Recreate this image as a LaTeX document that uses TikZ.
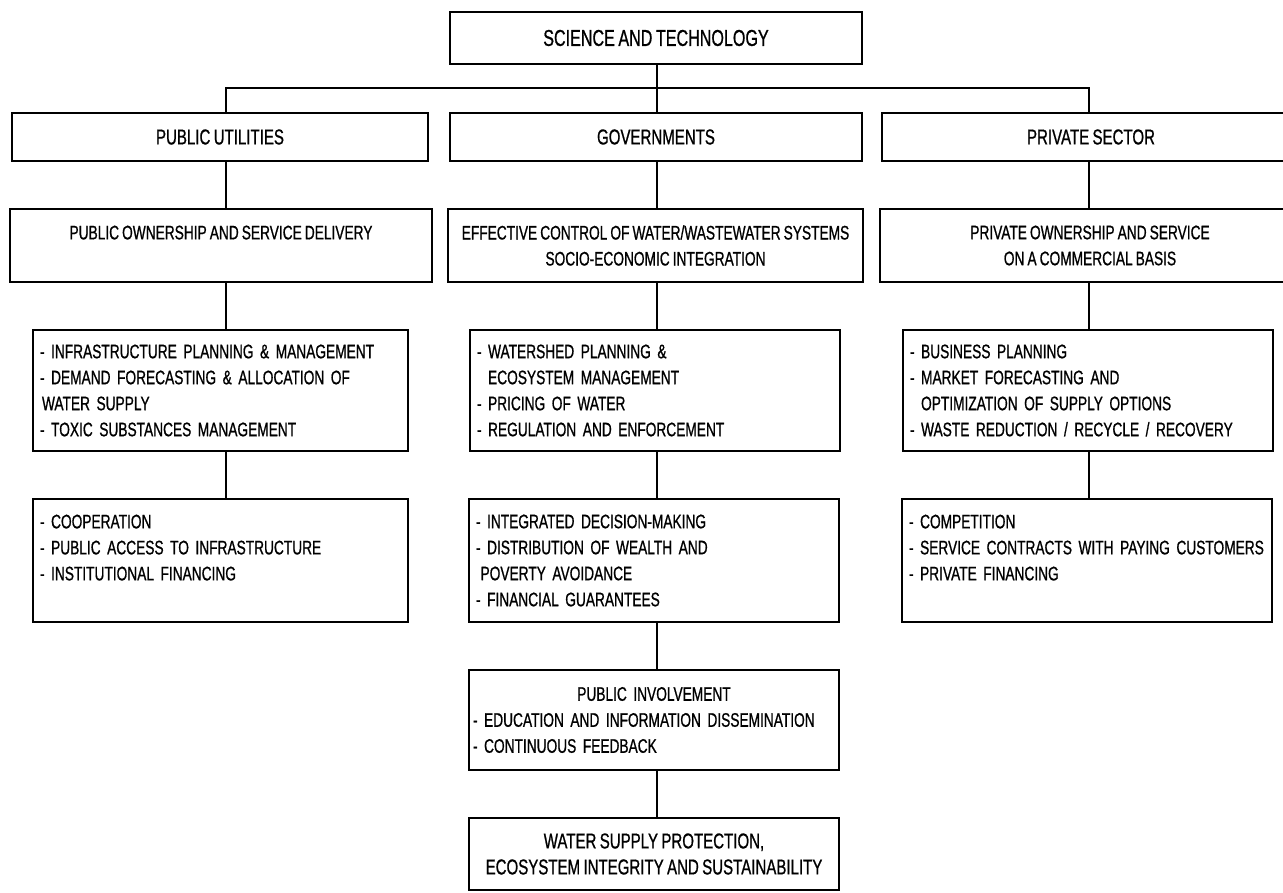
\documentclass[tikz,border=0pt]{standalone}
\usepackage{fontspec}
\setmainfont{Liberation Sans}[FakeStretch=0.7, FakeBold=0.8, WordSpace=0.8]
\begin{document}
\begin{tikzpicture}[x=1pt, y=-1pt,
        box/.style={draw=black, line width=2.7pt, inner sep=0pt, align=center,
            font=\fontsize{19.6}{26}\selectfont},
        headbox/.style={box, minimum height=48pt, font=\fontsize{21.5}{26}\selectfont},
        listbox/.style={box, align=left, inner xsep=7pt, text width=356pt},
        link/.style={line width=1.3pt},
        heavylink/.style={line width=2.8pt}]
    \useasboundingbox (0,0) rectangle (1283,893);
    \clip (0,0) rectangle (1283,893);
    \fill[white] (0,0) rectangle (1283,893);

    % columns of the connectors
    \coordinate (colL) at (226,0);
    \coordinate (colM) at (657,0);
    \coordinate (colR) at (1089,0);
    \coordinate (bar) at (657,88);

    \node[box, minimum width=412pt, minimum height=52pt, font=\fontsize{23}{26}\selectfont]
        (st) at (656,38) {SCIENCE AND TECHNOLOGY};

    % sectors
    \node[headbox, minimum width=416pt] (pu) at (220,137) {PUBLIC UTILITIES};
    \node[headbox, minimum width=412pt] (gov) at (656,137) {GOVERNMENTS};
    \node[headbox, minimum width=418pt] (ps) at (1091,137) {PRIVATE SECTOR};

    % roles
    \node[box, minimum width=422pt, minimum height=73pt] (po) at (221,245.5)
        {PUBLIC OWNERSHIP AND SERVICE DELIVERY\\ \mbox{}};
    \node[box, minimum width=415pt, minimum height=73pt] (ec) at (655.5,245.5)
        {EFFECTIVE CONTROL OF WATER/WASTEWATER SYSTEMS\\SOCIO-ECONOMIC INTEGRATION};
    \node[box, minimum width=420pt, minimum height=73pt] (pr) at (1090,245.5)
        {PRIVATE OWNERSHIP AND SERVICE\\ON A COMMERCIAL BASIS};

    % tasks
    \node[listbox, text width=361pt, minimum height=121pt] (tL) at (220.5,390.5)
        {- INFRASTRUCTURE PLANNING \& MANAGEMENT\\
         - DEMAND FORECASTING \& ALLOCATION OF\\
         \hspace*{2pt}WATER SUPPLY\\
         - TOXIC SUBSTANCES MANAGEMENT};
    \node[listbox, minimum height=121pt] (tM) at (655,390.5)
        {- WATERSHED PLANNING \&\\
         \phantom{- }ECOSYSTEM MANAGEMENT\\
         - PRICING OF WATER\\
         - REGULATION AND ENFORCEMENT};
    \node[listbox, minimum height=121pt] (tR) at (1088,390.5)
        {- BUSINESS PLANNING\\
         - MARKET FORECASTING AND\\
         \phantom{- }OPTIMIZATION OF SUPPLY OPTIONS\\
         - WASTE REDUCTION / RECYCLE / RECOVERY};

    % means
    \node[listbox, text width=361pt, minimum height=123pt] (mL) at (220.5,560.5)
        {- COOPERATION\\
         - PUBLIC ACCESS TO INFRASTRUCTURE\\
         - INSTITUTIONAL FINANCING\\ \mbox{}};
    \node[listbox, minimum height=123pt] (mM) at (654,560.5)
        {- INTEGRATED DECISION-MAKING\\
         - DISTRIBUTION OF WEALTH AND\\
         \phantom{-}POVERTY AVOIDANCE\\
         - FINANCIAL GUARANTEES};
    \node[listbox, minimum height=123pt] (mR) at (1087,560.5)
        {- COMPETITION\\
         - SERVICE CONTRACTS WITH PAYING CUSTOMERS\\
         - PRIVATE FINANCING\\ \mbox{}};

    \node[listbox, inner xsep=4pt, text width=362pt, minimum height=100pt] (pi) at (654,720)
        {\makebox[\hsize]{PUBLIC INVOLVEMENT}\\
         - EDUCATION AND INFORMATION DISSEMINATION\\
         - CONTINUOUS FEEDBACK};
    \node[box, minimum width=370pt, minimum height=72pt, font=\fontsize{21.5}{26}\selectfont]
        (ws) at (654,854)
        {WATER SUPPLY PROTECTION,\\ECOSYSTEM INTEGRITY AND SUSTAINABILITY};

    % connectors
    \draw[link] (st.south -| colM) -- (gov.north -| colM);
    \draw[link] (pu.north -| colL) -- (colL |- bar) -- (colR |- bar) -- (ps.north -| colR);
    \foreach \a/\b/\c/\w in {pu/po/colL/link, gov/ec/colM/link, ps/pr/colR/link,
                             po/tL/colL/link, ec/tM/colM/heavylink, pr/tR/colR/link,
                             tL/mL/colL/heavylink, tM/mM/colM/heavylink, tR/mR/colR/heavylink,
                             mM/pi/colM/link, pi/ws/colM/link}{
        \draw[\w] (\a.south -| \c) -- (\b.north -| \c);
    }
\end{tikzpicture}
\end{document}
